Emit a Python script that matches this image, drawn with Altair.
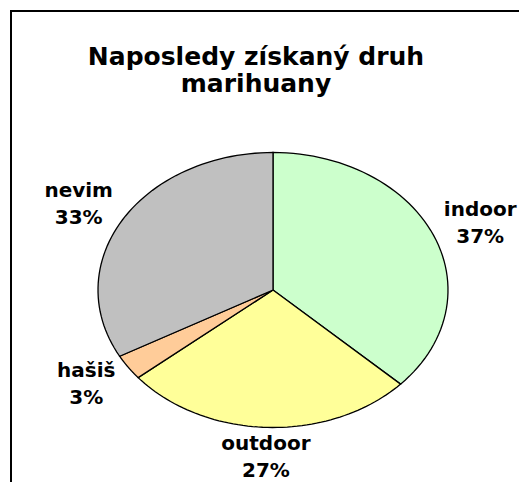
import altair as alt
import pandas as pd

# ---- data -------------------------------------------------------------
categories = ["indoor", "outdoor", "hašiš", "nevim"]
values = [37, 27, 3, 33]            # per cent
colors = ["#CCFFCC", "#FFFF99", "#FFCC99", "#C0C0C0"]
title_lines = ["Naposledy získaný druh", "marihuany"]

# ---- layout -----------------------------------------------------------
W, H = 511, 474          # plot area (page origin is at 8,8)
CX, CY = 265, 282        # pie centre inside plot area
RX, RY = 175, 137.5      # ellipse radii in px

df = pd.DataFrame({"cat": categories, "val": values,
                   "idx": list(range(len(categories)))})
one = pd.DataFrame({"t": [0]})

xscale = alt.Scale(domain=[-CX / RX, (W - CX) / RX], nice=False, zero=False)
yscale = alt.Scale(domain=[-(H - CY) / RY, CY / RY], nice=False, zero=False)

base = (
    alt.Chart(df)
    .transform_joinaggregate(total="sum(val)")
    .transform_window(cum="sum(val)", sort=[alt.SortField("idx")], frame=[None, 0])
    .transform_calculate(
        a0="(datum.cum - datum.val) / datum.total * 2 * PI",
        a1="datum.cum / datum.total * 2 * PI",
    )
)

slices = (
    base.transform_calculate(k="sequence(-1, 61)")
    .transform_flatten(["k"])
    .transform_calculate(
        ang="datum.a0 + (datum.a1 - datum.a0) * max(datum.k, 0) / 60",
        px="datum.k < 0 ? 0 : sin(datum.ang)",
        py="datum.k < 0 ? 0 : cos(datum.ang)",
    )
    .mark_line(interpolate="linear-closed", stroke="black", strokeWidth=1.3)
    .encode(
        x=alt.X("px:Q", scale=xscale, axis=None),
        y=alt.Y("py:Q", scale=yscale, axis=None),
        order=alt.Order("k:Q"),
        detail="cat:N",
        fill=alt.Fill("cat:N", scale=alt.Scale(domain=categories, range=colors),
                      legend=None),
    )
)

labels = (
    base.transform_calculate(
        mid="(datum.a0 + datum.a1) / 2",
        lx="sin(datum.mid) * 1.29",
        ly="cos(datum.mid) * 1.22",
        lab="[datum.cat, round(datum.val / datum.total * 100) + '%']",
    )
    .mark_text(font="DejaVu Sans", fontWeight="bold", fontSize=20, lineHeight=27,
               align="center", baseline="middle", color="black", dy=-13.5)
    .encode(
        x=alt.X("lx:Q", scale=xscale, axis=None),
        y=alt.Y("ly:Q", scale=yscale, axis=None),
        text=alt.Text("lab:N"),
    )
)

title = (
    alt.Chart(one)
    .mark_text(text=title_lines, font="DejaVu Sans", fontWeight="bold", fontSize=25,
               lineHeight=27, align="center", baseline="middle", color="black")
    .encode(x=alt.value(248), y=alt.value(49))
)

frame_left = (
    alt.Chart(one).mark_rule(color="black", strokeWidth=2)
    .encode(x=alt.value(3), y=alt.value(2), y2=alt.value(H))
)
frame_top = (
    alt.Chart(one).mark_rule(color="black", strokeWidth=2)
    .encode(y=alt.value(3), x=alt.value(2), x2=alt.value(W))
)

chart = (
    alt.layer(frame_left, frame_top, slices, labels, title)
    .properties(width=W, height=H, autosize="none", padding=0, background="white")
    .configure_view(stroke=None)
)

chart.save("out.html", embed_options={"renderer": "svg", "actions": False})
